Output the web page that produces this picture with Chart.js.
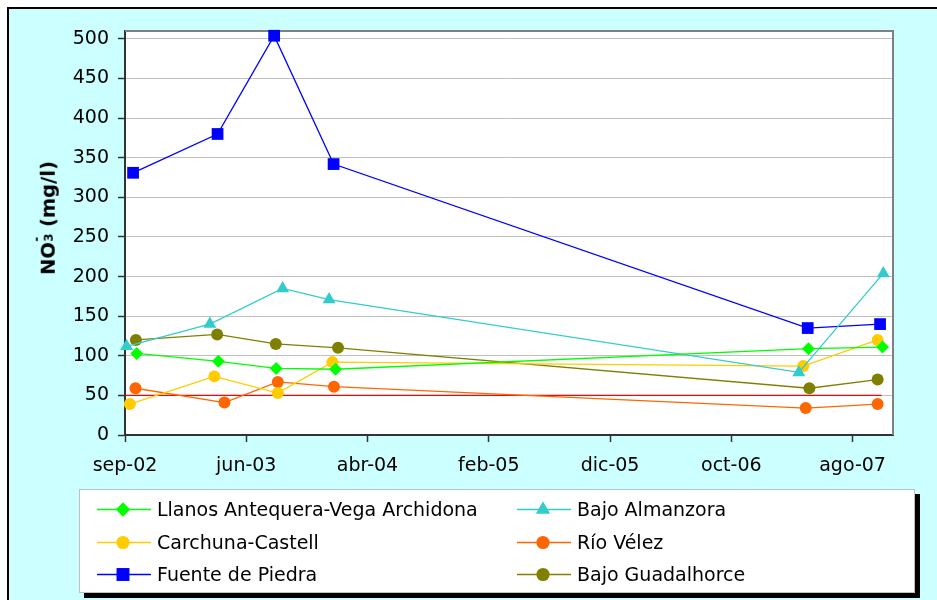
<!DOCTYPE html>
<html>
<head>
<meta charset="utf-8">
<script src="https://cdn.jsdelivr.net/npm/chart.js@4/dist/chart.umd.min.js"></script>
<style>
  html, body { margin:0; padding:0; background:#fff; overflow:hidden; }
  #frame { position:absolute; left:7px; top:7px; width:940px; height:600px;
           border-left:2px solid #000; border-top:2px solid #000; background:#ccffff; }
  #wrap { position:absolute; left:0; top:0; width:937px; height:600px; }
  #ytitle { position:absolute; left:47px; top:218px; transform:translate(-50%,-50%) rotate(-90deg);
            font:bold 19.5px 'DejaVu Sans', sans-serif; color:#000; white-space:nowrap; }
  #ytitle .ion { display:inline-block; position:relative; width:0.42em; height:1em; vertical-align:baseline; }
  #ytitle .ion i { position:absolute; left:0.02em; font-style:normal; font-size:0.6em; line-height:1; }
  #ytitle .ion .sup { top:-0.3em; }
  #ytitle .ion .sub { top:0.75em; }
  #legend { position:absolute; left:79px; top:489px; width:836px; height:104px; box-sizing:border-box;
            background:#fff; border:1px solid #c0c0c0; box-shadow:5px 5px 0 #000;
            font:19px 'DejaVu Sans', sans-serif; color:#000; }
  #legend .item { position:absolute; height:24px; }
  #legend canvas { position:absolute; left:0; top:0; }
  #legend span { position:absolute; left:60px; top:0; line-height:24px; white-space:nowrap; }
</style>
</head>
<body>
<div id="frame"></div>
<div id="wrap"><canvas id="chart"></canvas></div>
<div id="ytitle">NO<span class="ion"><i class="sup">-</i><i class="sub">3</i></span> (mg/l)</div>
<div id="legend"></div>
<script>
// Nitrate series per aquifer (mg/l), sampling dates as ISO strings
const AXIS_START = '2002-09-01';
const X_TICK_DAYS = [0, 300, 600, 900, 1200, 1500, 1800];
const X_TICK_LABELS = ['sep-02','jun-03','abr-04','feb-05','dic-05','oct-06','ago-07'];
const Y_TICKS = [0, 50, 100, 150, 200, 250, 300, 350, 400, 450, 500];

const llanosDates = ['2002-09-30','2003-04-20','2003-09-10','2004-02-04','2007-04-19','2007-10-19'];
const llanosNO3   = [103, 93, 84, 83, 109, 111];
const almanzoraDates = ['2002-09-05','2003-03-30','2003-09-26','2004-01-19','2007-03-26','2007-10-21'];
const almanzoraNO3   = [112, 140, 185, 171, 79, 204];
const carchunaDates = ['2002-09-13','2003-04-10','2003-09-14','2004-01-27','2007-04-06','2007-10-07'];
const carchunaNO3   = [39, 74, 53, 92, 87, 120];
const velezDates = ['2002-09-27','2003-05-05','2003-09-14','2004-01-31','2007-04-12','2007-10-07'];
const velezNO3   = [59, 41, 67, 61, 34, 39];
const fuenteDates = ['2002-09-21','2003-04-18','2003-09-05','2004-01-30','2007-04-17','2007-10-13'];
const fuenteNO3   = [331, 380, 504, 342, 135, 140];
const guadalhorceDates = ['2002-09-28','2003-04-17','2003-09-09','2004-02-10','2007-04-21','2007-10-07'];
const guadalhorceNO3   = [120, 127, 115, 110, 59, 70];
// 50 mg/l limit
const limitDates = ['2002-09-01','2007-10-17'];
const limitNO3   = [50, 50];

const FONT = { family:'DejaVu Sans', size:19 };
const dayOf = (s) => (Date.parse(s) - Date.parse(AXIS_START)) / 86400000;
const pts = (dates, vals) => dates.map((d, i) => ({ x: dayOf(d), y: vals[i] }));

function series(label, dates, vals, color, pointStyle, radius){
  return {
    label, data: pts(dates, vals),
    borderColor: color, backgroundColor: color,
    borderWidth: 1.3, pointStyle, pointRadius: radius, pointHoverRadius: radius,
    pointBorderWidth: 0, tension: 0, clip: false,
  };
}

const datasets = [
  series('Llanos Antequera-Vega Archidona', llanosDates, llanosNO3, '#00ff00', 'rectRot', 6.5),
  series('Bajo Almanzora', almanzoraDates, almanzoraNO3, '#33cccc', 'triangle', 7.5),
  series('Carchuna-Castell', carchunaDates, carchunaNO3, '#ffcc00', 'circle', 6),
  series('Río Vélez', velezDates, velezNO3, '#ff6600', 'circle', 6),
  series('Fuente de Piedra', fuenteDates, fuenteNO3, '#0000ff', 'rect', 8.3),
  series('Bajo Guadalhorce', guadalhorceDates, guadalhorceNO3, '#808000', 'circle', 6),
  { label:'', data: pts(limitDates, limitNO3), borderColor:'#ff0000', borderWidth:1.3,
    pointRadius:0, pointHoverRadius:0, clip:false },
];

// white plot area with grey top/right edge
const plotFrame = {
  id:'plotFrame',
  beforeDraw(chart){
    const {ctx, chartArea:a} = chart;
    ctx.save();
    ctx.fillStyle = '#fff';
    ctx.fillRect(a.left, a.top, a.width, a.height);
    ctx.restore();
  },
  beforeDatasetsDraw(chart){
    const {ctx, chartArea:a} = chart;
    ctx.save();
    ctx.strokeStyle = '#808080';
    ctx.lineWidth = 2;
    ctx.beginPath();
    ctx.moveTo(a.left, a.top);
    ctx.lineTo(a.right, a.top);
    ctx.lineTo(a.right, a.bottom);
    ctx.stroke();
    ctx.restore();
  }
};

const chart = new Chart(document.getElementById('chart'), {
  type:'line',
  data:{ datasets },
  plugins:[plotFrame],
  options:{
    responsive:true, maintainAspectRatio:false, animation:false,
    layout:{ padding:{ left:0, top:31, right:44, bottom:115 } },
    plugins:{ legend:{display:false}, tooltip:{enabled:false} },
    scales:{
      x:{
        type:'linear', min:0, max:1900,
        afterFit:(s) => { s.height = 50; },
        afterBuildTicks:(s) => { s.ticks = X_TICK_DAYS.map(v => ({ value:v })); },
        ticks:{ autoSkip:false, maxRotation:0, color:'#000', font:FONT, padding:13,
                callback:(v) => X_TICK_LABELS[X_TICK_DAYS.indexOf(v)] },
        grid:{ drawOnChartArea:false, tickLength:7, tickColor:'#333', tickWidth:1.5 },
        border:{ color:'#333', width:2 },
      },
      y:{
        min:0, max:510,
        afterFit:(s) => { s.width = 125; },
        afterBuildTicks:(s) => { s.ticks = Y_TICKS.map(v => ({ value:v })); },
        ticks:{ color:'#000', font:FONT, padding:9 },
        grid:{ color:'#c0c0c0', lineWidth:1, tickColor:'#333', tickLength:7, tickWidth:1.5 },
        border:{ color:'#333', width:2 },
      }
    }
  }
});

// two-column legend below the chart
const legendEl = document.getElementById('legend');
const COL_X = [17, 437];
const ROW_Y = [7, 40, 72];
datasets.filter(d => d.label).forEach((d, i) => {
  const item = document.createElement('div');
  item.className = 'item';
  item.style.left = COL_X[i % 2] + 'px';
  item.style.top = ROW_Y[Math.floor(i / 2)] + 'px';
  const cv = document.createElement('canvas');
  cv.width = 56; cv.height = 24;
  const ctx = cv.getContext('2d');
  ctx.strokeStyle = d.borderColor; ctx.lineWidth = 1.3;
  ctx.beginPath(); ctx.moveTo(0, 12.5); ctx.lineTo(54, 12.5); ctx.stroke();
  ctx.fillStyle = d.backgroundColor; ctx.strokeStyle = d.backgroundColor;
  Chart.helpers.drawPoint(ctx, { pointStyle:d.pointStyle, radius:d.pointRadius * 1.1, borderWidth:0, rotation:0 }, 26, 12.5);
  const label = document.createElement('span');
  label.textContent = d.label;
  item.appendChild(cv);
  item.appendChild(label);
  legendEl.appendChild(item);
});
</script>
</body>
</html>
